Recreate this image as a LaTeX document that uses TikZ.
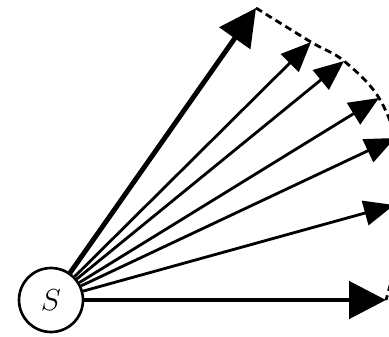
\documentclass[tikz,border=0pt]{standalone}
\usepackage{tikz}
\usetikzlibrary{arrows.meta}

\begin{document}
\begin{tikzpicture}[
    x=0.02cm, y=-0.02cm,
    src/.style={draw, circle, line width=1.5pt, minimum size=1.28cm, inner sep=0pt, font=\LARGE},
    bigray/.style={line width=2.8pt, -{Triangle[length=0.74cm, width=0.74cm]}},
    ray/.style={line width=1.6pt, -{Triangle[length=0.6cm, width=0.5cm]}},
    front/.style={line width=1.6pt, dash pattern=on 0.14cm off 0.09cm}
]
\useasboundingbox (0,0) rectangle (389,336);
\clip (0,0) rectangle (389,336);
\node[src] (s) at (51,300) {$S$};
\coordinate (t1) at (256,8);
\coordinate (t2) at (311,42);
\coordinate (t3) at (344,61);
\coordinate (t4) at (379,98);
\coordinate (t5) at (395,138);
\coordinate (t6) at (394,205);
\coordinate (t7) at (386,300);
% wave front
\draw[front] plot[smooth, tension=0.6] coordinates {(t1) (t2) (t3) (t4) (398,150) (401,215) (394,268) (t7)};
\draw[bigray] (s) -- (t1);
\draw[ray] (s) -- (t2);
\draw[ray] (s) -- (t3);
\draw[ray] (s) -- (t4);
\draw[ray] (s) -- (t5);
\draw[ray] (s) -- (t6);
\draw[bigray] (s) -- (t7);
\end{tikzpicture}
\end{document}
